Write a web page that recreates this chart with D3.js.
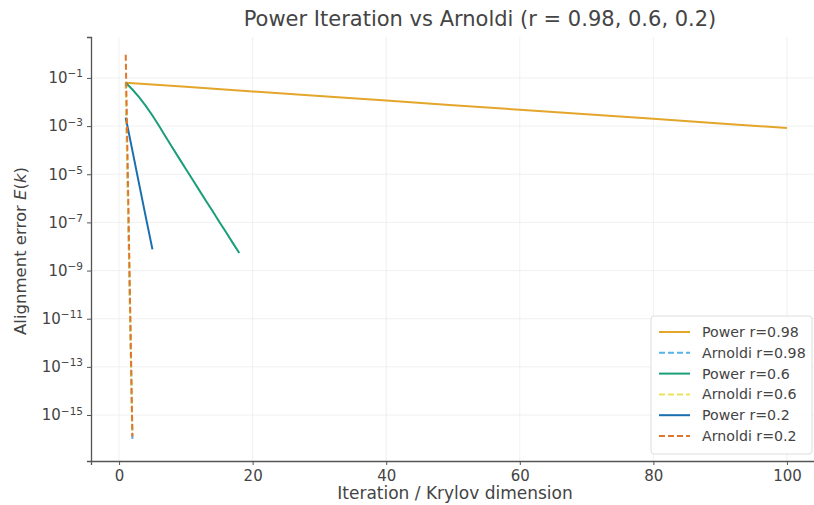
<!DOCTYPE html>
<html>
<head>
<meta charset="utf-8">
<script src="https://cdn.jsdelivr.net/npm/d3@7"></script>
<style>
  body { margin: 0; background: #fff; }
  svg text { font-family: "DejaVu Sans", sans-serif; }
</style>
</head>
<body>
<div id="chart"></div>
<script>
// values are log10 of the alignment error E(k)
const powerK98 = [1, 10, 20, 30, 40, 50, 60, 70, 80, 90, 100];
const powerE98 = [-1.2, -1.37, -1.56, -1.75, -1.94, -2.13, -2.32, -2.51, -2.70, -2.89, -3.08];

const powerK60 = [1, 2, 3, 4, 5, 6, 7, 8, 9, 10, 11, 12, 13, 14, 15, 16, 17, 18];
const powerE60 = [-1.2, -1.48, -1.8, -2.16, -2.56, -3.0, -3.45, -3.9, -4.34, -4.78, -5.22, -5.66, -6.1, -6.53, -6.97, -7.4, -7.84, -8.27];

const powerK20 = [1, 2, 3, 4, 5];
const powerE20 = [-2.65, -4.02, -5.4, -6.77, -8.12];

const arnK = [1, 2];
const arnE98 = [-1.2, -16.0];
const arnE60 = [-1.2, -15.8];
const arnE20 = [-0.04, -15.9];

const xTicks = [0, 20, 40, 60, 80, 100];
const yTicks = [-1, -3, -5, -7, -9, -11, -13, -15];

const series = [
  { name: "Power r=0.98", k: powerK98, e: powerE98, color: "#e3a62a", dash: null },
  { name: "Arnoldi r=0.98", k: arnK, e: arnE98, color: "#56b4e9", dash: "6,3" },
  { name: "Power r=0.6", k: powerK60, e: powerE60, color: "#1a9e7a", dash: null },
  { name: "Arnoldi r=0.6", k: arnK, e: arnE60, color: "#ece35a", dash: "6,3" },
  { name: "Power r=0.2", k: powerK20, e: powerE20, color: "#1a6fae", dash: null },
  { name: "Arnoldi r=0.2", k: arnK, e: arnE20, color: "#e0762a", dash: "6,3" }
];

const W = 814, H = 505;
const margin = { top: 37, right: -6, bottom: 44, left: 91 };
const width = W - margin.left - margin.right,
      height = H - margin.top - margin.bottom;

const svg = d3.select("#chart").append("svg")
    .attr("width", W)
    .attr("height", H);

const g = svg.append("g")
    .attr("transform", `translate(${margin.left},${margin.top})`);

const x = d3.scaleLinear().domain([-4.2, 104.95]).range([0, width]);
const y = d3.scaleLinear().domain([-16.91, 0.70]).range([height, 0]);

// grid
g.append("g").selectAll("line")
    .data(xTicks)
    .join("line")
    .attr("x1", d => x(d)).attr("x2", d => x(d))
    .attr("y1", 0).attr("y2", height)
    .attr("stroke", "#ececec").attr("stroke-width", 0.8);
g.append("g").selectAll("line")
    .data(yTicks)
    .join("line")
    .attr("x1", 0).attr("x2", width)
    .attr("y1", d => y(d)).attr("y2", d => y(d))
    .attr("stroke", "#ececec").attr("stroke-width", 0.8);

// axes
const xAxis = g.append("g")
    .attr("transform", `translate(0,${height})`)
    .call(d3.axisBottom(x).tickValues(xTicks).tickSize(4).tickPadding(5));
const yAxis = g.append("g")
    .call(d3.axisLeft(y).tickValues(yTicks).tickSize(4).tickPadding(5).tickFormat(""));

[xAxis, yAxis].forEach(a => {
  a.select(".domain").attr("stroke", "#555").attr("stroke-width", 1.3);
  a.selectAll(".tick line").attr("stroke", "#555").attr("stroke-width", 1);
  a.selectAll("text").attr("fill", "#444").style("font-size", "15px")
      .style("font-family", "DejaVu Sans, sans-serif");
});

// y tick labels with exponent
yAxis.selectAll(".tick").each(function (d) {
  const t = d3.select(this).select("text")
      .attr("x", -8).attr("dy", "0.32em").attr("text-anchor", "end");
  t.text(null);
  t.append("tspan").text("10");
  t.append("tspan").attr("dy", "-0.55em").style("font-size", "10.5px").text("\u2212" + Math.abs(d));
});

// lines
const line = d3.line()
    .x(d => x(d[0]))
    .y(d => y(d[1]));

series.forEach(s => {
  g.append("path")
      .datum(s.k.map((k, i) => [k, s.e[i]]))
      .attr("fill", "none")
      .attr("stroke", s.color)
      .attr("stroke-width", 2)
      .attr("stroke-dasharray", s.dash)
      .attr("d", line);
});

// title and labels
svg.append("text")
    .attr("x", 480).attr("y", 26)
    .attr("text-anchor", "middle")
    .attr("fill", "#444")
    .style("font-size", "21px")
    .text("Power Iteration vs Arnoldi (r = 0.98, 0.6, 0.2)");

svg.append("text")
    .attr("x", 455).attr("y", 499)
    .attr("text-anchor", "middle")
    .attr("fill", "#444")
    .style("font-size", "17px")
    .text("Iteration / Krylov dimension");

const yl = svg.append("text")
    .attr("transform", `translate(26,${margin.top + height / 2 + 2}) rotate(-90)`)
    .attr("text-anchor", "middle")
    .attr("fill", "#444")
    .style("font-size", "16.5px");
yl.append("tspan").text("Alignment error ");
yl.append("tspan").style("font-style", "italic").text("E");
yl.append("tspan").text("(");
yl.append("tspan").style("font-style", "italic").text("k");
yl.append("tspan").text(")");

// legend
const lg = svg.append("g").attr("transform", "translate(651,316)");
lg.append("rect")
    .attr("width", 161).attr("height", 138)
    .attr("rx", 3)
    .attr("fill", "#fff").attr("fill-opacity", 0.85)
    .attr("stroke", "#ddd");
series.forEach((s, i) => {
  const yy = 16 + i * 20.8;
  lg.append("line")
      .attr("x1", 8).attr("x2", 39)
      .attr("y1", yy).attr("y2", yy)
      .attr("stroke", s.color).attr("stroke-width", 2)
      .attr("stroke-dasharray", s.dash);
  lg.append("text")
      .attr("x", 51).attr("y", yy).attr("dy", "0.35em")
      .attr("fill", "#444")
      .style("font-size", "14.2px")
      .text(s.name);
});
</script>
</body>
</html>
